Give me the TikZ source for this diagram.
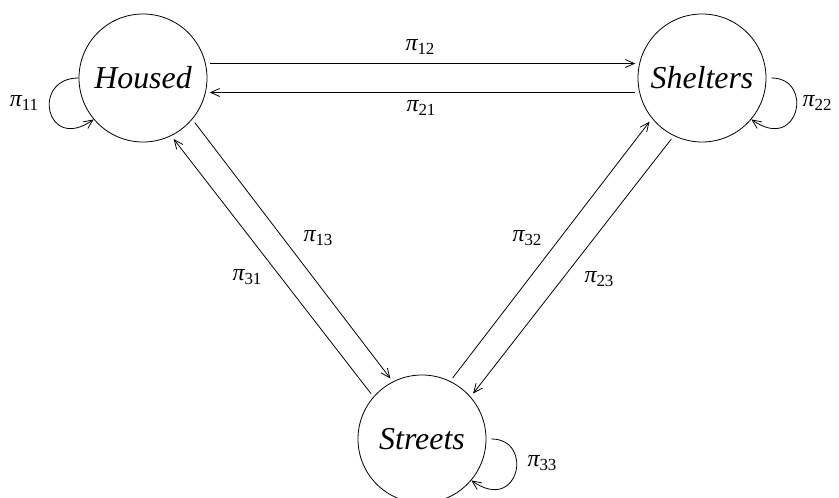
\documentclass[tikz,border=0pt]{standalone}
\usepackage{fontspec}
\setmainfont{Liberation Serif}
\usetikzlibrary{arrows.meta}
\newcommand{\pilab}[1]{{\fontsize{24}{28}\selectfont\itshape π}\raisebox{-4bp}{\fontsize{17}{20}\selectfont #1}}
\begin{document}
\begin{tikzpicture}[x=1bp,y=1bp,line width=0.8bp,>={Straight Barb[length=9bp,width=8bp]},
  state/.style={circle,draw,minimum size=128bp,inner sep=0pt,font=\fontsize{32}{38}\selectfont\itshape},
  move/.style={->,shorten <=4bp,shorten >=4bp}]
\useasboundingbox (0,0) rectangle (839,498);
\node[state] (h) at (143,420) {Housed};
\node[state] (s) at (702,420) {Shelters};
\node[state] (t) at (422,59) {Streets};
% between states
\draw[move] (h.13) -- (s.167) node at (420,451) {\pilab{12}};
\draw[move] (s.193) -- (h.-13) node at (421,390) {\pilab{21}};
\draw[move] (h.-40) -- (t.117) node at (318,260) {\pilab{13}};
\draw[move] (t.139) -- (h.-64) node at (247,221) {\pilab{31}};
\draw[move] (t.64) -- (s.219) node at (527,260) {\pilab{32}};
\draw[move] (s.244) -- (t.41) node at (599,219) {\pilab{23}};
% staying
\draw[->] (h.180) .. controls +(-48,0) and +(-48,-34) .. (h.220) node at (24,395) {\pilab{11}};
\draw[->,shorten <=5bp] (s.0) .. controls +(48,0) and +(48,-34) .. (s.-40) node at (817,395) {\pilab{22}};
\draw[->,shorten <=5bp] (t.0) .. controls +(48,0) and +(48,-34) .. (t.-40) node at (542,35) {\pilab{33}};
\end{tikzpicture}
\end{document}
